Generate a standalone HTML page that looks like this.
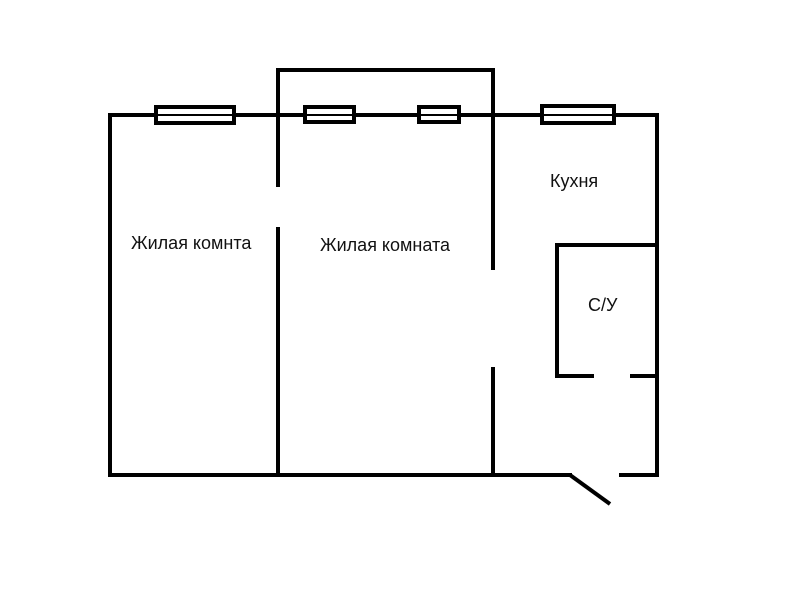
<!DOCTYPE html>
<html><head><meta charset="utf-8"><style>
html,body{margin:0;padding:0;background:#fff;width:800px;height:600px;overflow:hidden}
</style></head><body>
<svg width="800" height="600" xmlns="http://www.w3.org/2000/svg">
<g stroke="#000" stroke-width="4" fill="none" stroke-linecap="square">
<polyline points="110,475 110,115 657,115 657,475"/>
<line x1="110" y1="475" x2="570" y2="475"/>
<line x1="570" y1="475" x2="610" y2="504" stroke-linecap="butt"/>
<line x1="621" y1="475" x2="657" y2="475"/>
<polyline points="278,185 278,70 493,70 493,268"/>
<line x1="278" y1="229" x2="278" y2="475"/>
<line x1="493" y1="369" x2="493" y2="475"/>
<polyline points="592,376 557,376 557,245 657,245"/>
<line x1="632" y1="376" x2="657" y2="376"/>
<rect x="156" y="107" width="78" height="16" fill="#fff"/>
<rect x="305" y="107" width="49" height="15" fill="#fff"/>
<rect x="419" y="107" width="40" height="15" fill="#fff"/>
<rect x="542" y="106" width="72" height="17" fill="#fff"/>
</g>
<g stroke="#000" stroke-width="2">
<line x1="156" y1="115" x2="234" y2="115"/>
<line x1="305" y1="115" x2="354" y2="115"/>
<line x1="419" y1="115" x2="459" y2="115"/>
<line x1="542" y1="115" x2="614" y2="115"/>
</g>
<g font-family="Liberation Sans, DejaVu Sans, sans-serif" font-size="18" fill="#111">
<text x="131" y="249">Жилая комнта</text>
<text x="320" y="251">Жилая комната</text>
<text x="550" y="187">Кухня</text>
<text x="588" y="311">С/У</text>
</g>
</svg>
</body></html>
